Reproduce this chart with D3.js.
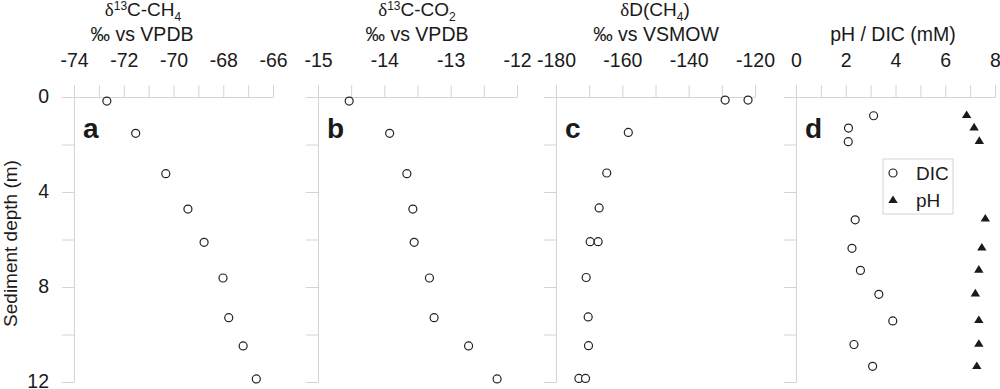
<!DOCTYPE html>
<html>
<head>
<meta charset="utf-8">
<script src="https://cdn.jsdelivr.net/npm/d3@7"></script>
<style>
  body { margin: 0; background: #fff; }
  svg text { font-family: "Liberation Sans", Arial, sans-serif; fill: #1a1a1a; }
  .axis path, .axis line { stroke: #d4d4d4; stroke-width: 1; }
  .axis text { font-size: 19.5px; fill: #1a1a1a; }
</style>
</head>
<body>
<div id="chart"></div>
<script>
// depth (m) of the samples
const depthAB = [0.17, 1.53, 3.23, 4.72, 6.12, 7.62, 9.29, 10.48, 11.87];
const d13CH4 = [-72.68, -71.52, -70.31, -69.42, -68.77, -68.01, -67.78, -67.20, -66.67];
const d13CO2 = [-14.53, -13.92, -13.66, -13.57, -13.55, -13.32, -13.25, -12.73, -12.30];

const depthDD = [0.13, 0.13, 1.49, 3.2, 4.67, 6.09, 6.09, 7.6, 9.26, 10.47, 11.85, 11.85];
const dDCH4 = [-129.0, -122.1, -158.2, -164.7, -167.0, -169.7, -167.3, -170.9, -170.3, -170.2, -173.1, -171.1];

const depthDIC = [0.79, 1.31, 1.88, 5.17, 6.37, 7.30, 8.31, 9.43, 10.42, 11.34];
const dic = [3.12, 2.11, 2.10, 2.38, 2.25, 2.59, 3.33, 3.89, 2.33, 3.08];
const depthPH = [0.76, 1.28, 1.85, 5.12, 6.34, 7.27, 8.27, 9.39, 10.39, 11.33];
const ph = [6.86, 7.16, 7.37, 7.61, 7.47, 7.35, 7.21, 7.35, 7.35, 7.27];

const depthTicks = [0, 2, 4, 6, 8, 10, 12];
const depthLabels = [0, 4, 8, 12];

const panels = [
  {letter: "a", left: 74, domain: [-74, -66], ticks: [-74,-73,-72,-71,-70,-69,-68,-67,-66], labels: [-74,-72,-70,-68,-66],
   series: [{depth: depthAB, val: d13CH4, sym: "circle"}]},
  {letter: "b", left: 318, domain: [-15, -12], ticks: [-15,-14.5,-14,-13.5,-13,-12.5,-12], labels: [-15,-14,-13,-12],
   series: [{depth: depthAB, val: d13CO2, sym: "circle"}]},
  {letter: "c", left: 556, domain: [-180, -120], ticks: [-180,-170,-160,-150,-140,-130,-120], labels: [-180,-160,-140,-120],
   series: [{depth: depthDD, val: dDCH4, sym: "circle"}]},
  {letter: "d", left: 796, domain: [0, 8], ticks: [0,1,2,3,4,5,6,7,8], labels: [0,2,4,6,8],
   series: [{depth: depthDIC, val: dic, sym: "circle"}, {depth: depthPH, val: ph, sym: "triangle"}]}
];

const W = 1000, H = 389;
const panelW = 199;
const plotTop = 97, plotBottom = 382;

const svg = d3.select("#chart").append("svg")
  .attr("width", W).attr("height", H);

const y = d3.scaleLinear().domain([0, 12]).range([plotTop, plotBottom]);

// flat filled triangle like the original marker
const tri = "M0,-4.6L4.7,3L-4.7,3Z";

panels.forEach((p, i) => {
  const x = d3.scaleLinear().domain(p.domain).range([p.left, p.left + panelW]);
  const g = svg.append("g");

  // top axis
  g.append("g")
    .attr("class", "axis")
    .attr("transform", `translate(0,${plotTop})`)
    .call(d3.axisTop(x).tickValues(p.ticks).tickSize(12).tickSizeOuter(0).tickPadding(18)
      .tickFormat(d => p.labels.includes(d) ? String(d) : ""));

  // left axis
  const ya = g.append("g")
    .attr("class", "axis")
    .attr("transform", `translate(${p.left},0)`)
    .call(d3.axisLeft(y).tickValues(depthTicks).tickSize(12).tickSizeOuter(0).tickPadding(13)
      .tickFormat(d => (i === 0 && depthLabels.includes(d)) ? String(d) : ""));
  ya.selectAll("text").attr("dy", "0.27em");

  // points
  p.series.forEach(s => {
    const pts = s.depth.map((dp, k) => ({depth: dp, v: s.val[k]}));
    if (s.sym === "circle") {
      g.selectAll(null).data(pts).enter().append("circle")
        .attr("cx", d => x(d.v))
        .attr("cy", d => y(d.depth))
        .attr("r", 4)
        .attr("fill", "#fff")
        .attr("stroke", "#222")
        .attr("stroke-width", 1.2);
    } else {
      g.selectAll(null).data(pts).enter().append("path")
        .attr("d", tri)
        .attr("transform", d => `translate(${x(d.v)},${y(d.depth)})`)
        .attr("fill", "#1a1a1a");
    }
  });

  // panel letter
  g.append("text")
    .attr("x", p.left + 9)
    .attr("y", 138)
    .attr("font-size", "28px")
    .attr("font-weight", "bold")
    .text(p.letter);
});

// titles
function isoTitle(xc, lines) {
  const t = svg.append("text")
    .attr("x", xc).attr("y", 16)
    .attr("text-anchor", "middle")
    .attr("font-size", "19px");
  lines(t);
}

isoTitle(143, t => {
  t.append("tspan").attr("font-family", "Liberation Serif").text("δ");
  t.append("tspan").attr("font-size", "12px").attr("dy", -6).text("13");
  t.append("tspan").attr("dy", 6).text("C-CH");
  t.append("tspan").attr("font-size", "12px").attr("dy", 5).text("4");
});
isoTitle(417, t => {
  t.append("tspan").attr("font-family", "Liberation Serif").text("δ");
  t.append("tspan").attr("font-size", "12px").attr("dy", -6).text("13");
  t.append("tspan").attr("dy", 6).text("C-CO");
  t.append("tspan").attr("font-size", "12px").attr("dy", 5).text("2");
});
isoTitle(655, t => {
  t.append("tspan").attr("font-family", "Liberation Serif").text("δ");
  t.append("tspan").text("D(CH");
  t.append("tspan").attr("font-size", "12px").attr("dy", 5).text("4");
  t.append("tspan").attr("dy", -5).text(")");
});

const sub = [
  {x: 142, t: "‰ vs VPDB"},
  {x: 417, t: "‰ vs VPDB"},
  {x: 656, t: "‰ vs VSMOW"},
  {x: 893, t: "pH / DIC (mM)"}
];
svg.selectAll(null).data(sub).enter().append("text")
  .attr("x", d => d.x).attr("y", 41)
  .attr("text-anchor", "middle")
  .attr("font-size", "19.5px")
  .text(d => d.t);

// y axis title
svg.append("text")
  .attr("transform", `translate(17,${(plotTop + plotBottom) / 2 + 4}) rotate(-90)`)
  .attr("text-anchor", "middle")
  .attr("font-size", "19px")
  .text("Sediment depth (m)");

// legend panel d
const lg = svg.append("g");
lg.append("rect")
  .attr("x", 883).attr("y", 159).attr("width", 70).attr("height", 55)
  .attr("fill", "#fff").attr("stroke", "#d4d4d4");
lg.append("circle")
  .attr("cx", 893).attr("cy", 173).attr("r", 4)
  .attr("fill", "#fff").attr("stroke", "#222").attr("stroke-width", 1.2);
lg.append("path")
  .attr("d", tri).attr("transform", "translate(893,200)").attr("fill", "#1a1a1a");
lg.append("text").attr("x", 916).attr("y", 180).attr("font-size", "19px").text("DIC");
lg.append("text").attr("x", 916).attr("y", 207).attr("font-size", "19px").text("pH");
</script>
</body>
</html>
